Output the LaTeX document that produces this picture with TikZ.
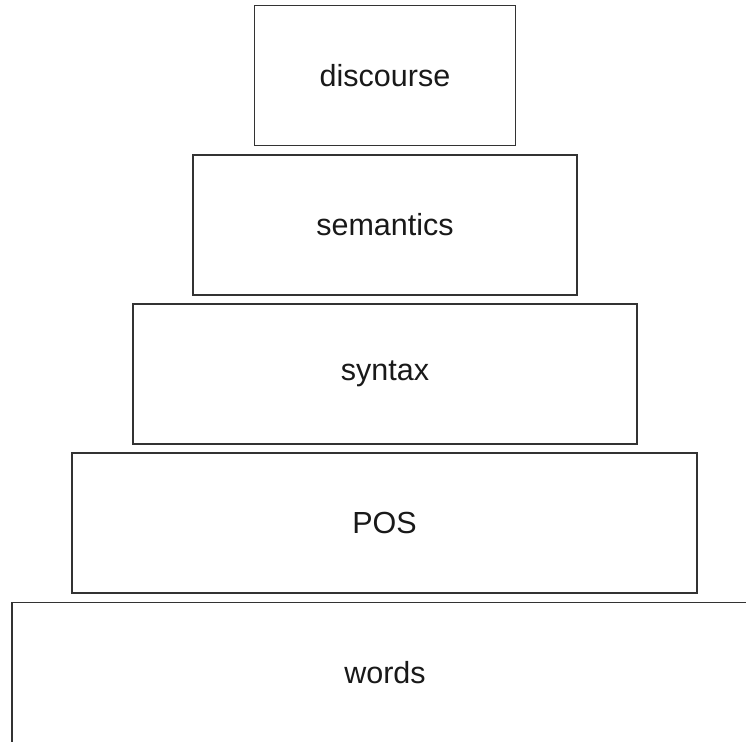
\documentclass[tikz,border=0pt]{standalone}
\usepackage{fontspec}
\setmainfont{Liberation Sans}
\begin{document}
\begin{tikzpicture}[x=1pt,y=-1pt,
  layer/.style={draw=black!80, line width=1.4pt, fill=white, rectangle, inner sep=0pt,
    minimum height=140pt, font=\fontsize{30.5}{35}\selectfont, text=black!90}]
\useasboundingbox (0,0) rectangle (746,741);
\clip (0,0) rectangle (746,741);
\node[layer, minimum width=261pt] (discourse) at (385,75.5) {\raisebox{-4pt}{discourse}};
\node[layer, minimum width=384pt] (semantics) at (385,225) {\raisebox{-3pt}{semantics}};
\node[layer, minimum width=504pt] (syntax) at (385,374) {\raisebox{-2pt}{syntax}};
\node[layer, minimum width=625pt] (pos) at (384.5,523) {\raisebox{-1pt}{POS}};
\node[layer, minimum width=746pt] (words) at (385,672.5) {words};
\end{tikzpicture}
\end{document}
